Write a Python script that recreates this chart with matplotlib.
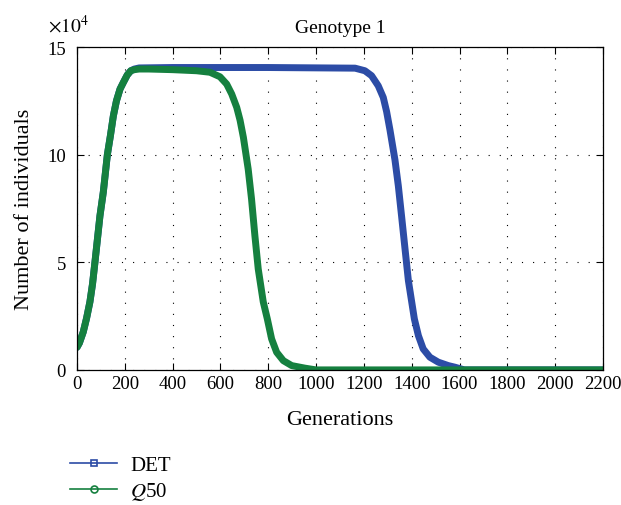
import matplotlib
matplotlib.use("Agg")
import matplotlib.pyplot as plt
from matplotlib.lines import Line2D
from matplotlib.ticker import FuncFormatter, MultipleLocator

# values
det_gen = [0, 10, 26, 40, 54, 65, 75, 96, 110, 127, 140, 152, 165, 180, 194, 210, 225,
           240, 260, 400, 800, 1163, 1204, 1232, 1260, 1281, 1295, 1309, 1330, 1344,
           1358, 1372, 1386, 1411, 1428, 1448, 1476, 1511, 1553, 1581, 1620, 2200]
det_n = [10500, 12500, 17600, 24000, 31600, 40000, 50000, 71600, 82600, 100000, 109000,
         118000, 125000, 130500, 133600, 137000, 139000, 139800, 140300, 140500, 140500,
         140200, 139000, 136700, 132000, 126600, 120000, 111500, 97500, 85500, 71000,
         56200, 41500, 23700, 15900, 9750, 5900, 3600, 2000, 1250, 0, 0]

q50_gen = [0, 10, 26, 40, 54, 65, 75, 96, 110, 127, 140, 152, 165, 180, 194, 210, 225,
           240, 260, 300, 400, 500, 556, 598, 626, 647, 668, 682, 696, 716, 730, 744,
           758, 779, 796, 814, 835, 863, 898, 954, 1000, 2200]
q50_n = [10500, 12500, 17600, 24000, 31600, 40000, 50000, 71600, 82600, 100000, 109000,
         118000, 125000, 130500, 133600, 137000, 139000, 139500, 139800, 139800, 139500,
         139000, 138300, 136200, 132800, 128200, 122000, 116000, 108000, 93300, 79400,
         62400, 46900, 31600, 23700, 14400, 8200, 4300, 2000, 800, 0, 0]

blue = "#2c4ca6"
green = "#15803f"

plt.rcParams["font.family"] = ["Liberation Serif", "DejaVu Serif"]
plt.rcParams["mathtext.fontset"] = "stix"

fig = plt.figure(figsize=(6.21, 5.06), dpi=100)
ax = fig.add_axes([0.124, 0.267, 0.847, 0.638])

ax.plot(det_gen, det_n, color=blue, lw=5, solid_capstyle="round", solid_joinstyle="round")
ax.plot(q50_gen, q50_n, color=green, lw=5, solid_capstyle="round", solid_joinstyle="round")

ax.set_xlim(0, 2200)
ax.set_ylim(0, 150000)
ax.xaxis.set_major_locator(MultipleLocator(200))
ax.yaxis.set_major_locator(MultipleLocator(50000))
ax.yaxis.set_major_formatter(FuncFormatter(lambda v, p: "%d" % round(v / 1e4)))
ax.tick_params(direction="in", top=True, right=True, labelsize=13.5, length=5)
ax.tick_params(axis="y", pad=8)
ax.tick_params(axis="x", pad=4)
ax.grid(True, color="black", linestyle=(0, (1, 9)), lw=0.8)
for s in ax.spines.values():
    s.set_linewidth(0.9)

ax.text(0.5, 1.062, "Genotype 1", transform=ax.transAxes, fontsize=14,
        ha="center", va="center")
ax.set_xlabel("Generations", fontsize=16, va="center")
ax.set_ylabel("Number of individuals", fontsize=16, va="center")
ax.xaxis.set_label_coords(0.5, -0.155)
ax.yaxis.set_label_coords(-0.1, 0.5)
ax.text(-0.056, 1.07, r"$\times10^4$", transform=ax.transAxes, fontsize=14,
        ha="left", va="center")

handles = [
    Line2D([], [], color=blue, lw=1.2, marker="s", markersize=5,
           markerfacecolor="none", markeredgewidth=1.2),
    Line2D([], [], color=green, lw=1.2, marker="o", markersize=5,
           markerfacecolor="none", markeredgewidth=1.2),
]
fig.legend(handles, ["DET", r"$Q$50"], loc="upper left",
           bbox_to_anchor=(0.112, 0.098), frameon=False, fontsize=15,
           handlelength=2.3, handletextpad=0.6, labelspacing=0.25,
           borderaxespad=0, borderpad=0)

fig.savefig("out.png", dpi=100)
